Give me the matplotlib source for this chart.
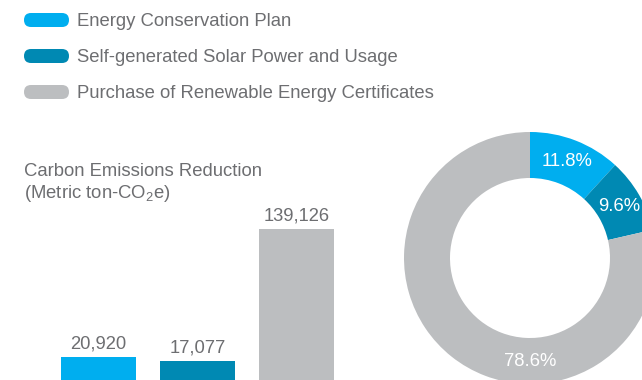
import matplotlib
matplotlib.use("Agg")
import numpy as np
import matplotlib.pyplot as plt
from matplotlib.patches import FancyBboxPatch

plt.rcParams['font.family'] = ['Liberation Sans', 'DejaVu Sans']
plt.rcParams['mathtext.default'] = 'regular'

categories = ["Energy Conservation Plan",
              "Self-generated Solar Power and Usage",
              "Purchase of Renewable Energy Certificates"]
reduction = [20920, 17077, 139126]
share_pct = [11.8, 9.6, 78.6]
colors = ["#00aeef", "#0089b3", "#bcbec0"]
text_color = "#6d6e71"

W, H = 642, 380
fig = plt.figure(figsize=(W / 100, H / 100), dpi=100)

# overlay in pixel coords for legend and title
ov = fig.add_axes([0, 0, 1, 1])
ov.set_xlim(0, W)
ov.set_ylim(H, 0)
ov.axis("off")
for i, (lab, c) in enumerate(zip(categories, colors)):
    y = 20 + 36 * i
    ov.add_patch(FancyBboxPatch((24, y - 7), 45, 14,
                                boxstyle="round,pad=0,rounding_size=7",
                                fc=c, ec="none"))
    ov.text(77, y + 1.5, lab, fontsize=13.3, color=text_color, va="center", ha="left")
ov.text(24, 172, "Carbon Emissions Reduction", fontsize=13.3, color=text_color,
        va="center", ha="left")
ov.text(24, 194, "(Metric ton-CO$_2$e)", fontsize=13.3, color=text_color,
        va="center", ha="left")

# bar chart
axb = fig.add_axes([49 / W, 0, 297 / W, 180 / H])
x = range(len(reduction))
axb.bar(x, reduction, width=0.758, color=colors)
axb.set_xlim(-0.5, 2.5)
axb.set_ylim(0, max(reduction) * 180 / 151)
axb.axis("off")
for xi, v in zip(x, reduction):
    axb.annotate(f"{v:,}", (xi, v), xytext=(0, 9.5), textcoords="offset points",
                 ha="center", va="center", fontsize=13.2, color=text_color)

# donut
axd = fig.add_axes([404 / W, -4 / H, 252 / W, 252 / H])
axd.pie(share_pct, colors=colors, startangle=90, counterclock=False,
        radius=1, wedgeprops=dict(width=1 - 80 / 126, linewidth=0))
r = (1 + 80 / 126) / 2
start = 90.0
for i, p in enumerate(share_pct):
    mid = start - p / 100 * 180
    if i == 2:
        mid = -90  # big slice label sits at the bottom
    a = np.deg2rad(mid)
    axd.text(r * np.cos(a), r * np.sin(a), f"{p:.1f}%",
             ha="center", va="center", color="white", fontsize=13.3)
    start -= p / 100 * 360
axd.set_xlim(-1, 1)
axd.set_ylim(-1, 1)
axd.set_aspect("equal")

fig.savefig("out.png", dpi=100)
